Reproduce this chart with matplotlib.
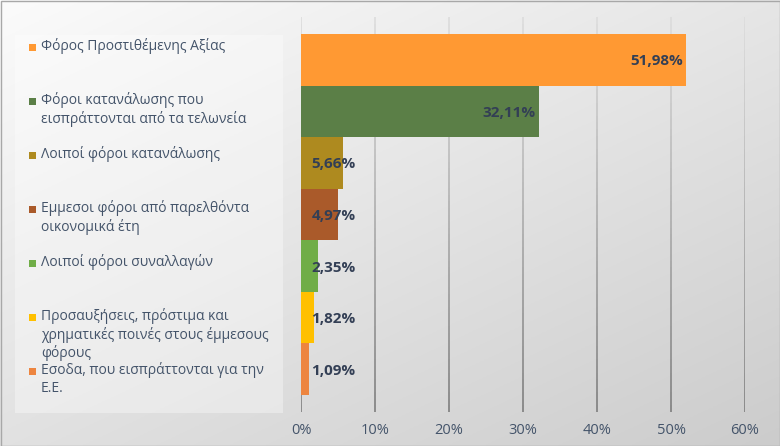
import numpy as np
import matplotlib.pyplot as plt
from matplotlib.collections import LineCollection
from matplotlib.colors import to_rgb

# data
categories = [
    "Φόρος Προστιθέμενης Αξίας",
    "Φόροι κατανάλωσης που\nεισπράττονται από τα τελωνεία",
    "Λοιποί φόροι κατανάλωσης",
    "Εμμεσοι φόροι από παρελθόντα\nοικονομικά έτη",
    "Λοιποί φόροι συναλλαγών",
    "Προσαυξήσεις, πρόστιμα και\nχρηματικές ποινές στους έμμεσους\nφόρους",
    "Εσοδα, που εισπράττονται για την\nΕ.Ε.",
]
values = [51.98, 32.11, 5.66, 4.97, 2.35, 1.82, 1.09]
colors = ["#FF9933", "#5B7F47", "#AE8A1F", "#AA5A2A", "#70AD47", "#FFC000", "#ED8540"]
xticks = [0, 10, 20, 30, 40, 50, 60]

W, H = 780, 446
txt_col = "#44546A"
lbl_col = "#333F55"
plt.rcParams['font.family'] = ['Open Sans', 'DejaVu Sans']

fig = plt.figure(figsize=(W / 100, H / 100), dpi=100)

# background gradient
bg = fig.add_axes([0, 0, 1, 1])
gx, gy = np.meshgrid(np.linspace(0, 1, 200), np.linspace(0, 1, 200))
g = np.clip(0.45 * gx + 0.55 * gy, 0, 1)
top = np.array([0.985, 0.985, 0.985])
bot = np.array([0.80, 0.80, 0.80])
img = top[None, None, :] * (1 - g[..., None]) + bot[None, None, :] * g[..., None]
bg.imshow(img, extent=[0, W, H, 0], aspect='auto')
bg.set_xlim(0, W)
bg.set_ylim(H, 0)
bg.axis('off')
bg.add_patch(plt.Rectangle((0.5, 0.5), W - 1, H - 1, fill=False, ec="#A8A8A8", lw=1))

# legend box
bg.add_patch(plt.Rectangle((15, 35), 268, 378, fc="white", alpha=0.35, ec="none"))

# plot area
x0, x1 = 301, 745
y0, y1 = 17, 412
ax = fig.add_axes([x0 / W, 1 - y1 / H, (x1 - x0) / W, (y1 - y0) / H])
ax.set_facecolor("none")
ypos = np.arange(len(values))
ax.set_xlim(0, 60)
ax.set_ylim(len(values) - 1 + 0.83, -0.83)

# gridlines with vertical fade
nseg = 60
ys = np.linspace(ax.get_ylim()[1], ax.get_ylim()[0], nseg + 1)
c_top = np.array(to_rgb("#DCDCDC"))
c_bot = np.array(to_rgb("#7E7E7E"))
for t in xticks:
    segs = [[(t, ys[i]), (t, ys[i + 1])] for i in range(nseg)]
    f = np.linspace(0, 1, nseg)[:, None]
    cols = c_top * (1 - f) + c_bot * f
    ax.add_collection(LineCollection(segs, colors=cols, linewidths=1.2, zorder=1))

ax.barh(ypos, values, height=1.0, color=colors, edgecolor="none", zorder=2)

for i, v in enumerate(values):
    s = f"{v:.2f}".replace(".", ",") + "%"
    if v > 20:
        ax.text(v - 0.4, i + 0.03, s, ha="right", va="center", fontsize=11,
                fontweight="bold", color=lbl_col, zorder=3)
    else:
        ax.text(1.4, i + 0.03, s, ha="left", va="center", fontsize=11,
                fontweight="bold", color=lbl_col, zorder=3)

ax.set_xticks(xticks)
ax.set_xticklabels([f"{t}%" for t in xticks], fontsize=10.5, color=txt_col)
ax.tick_params(axis="x", length=0, pad=8)
ax.set_yticks([])
for sp in ax.spines.values():
    sp.set_visible(False)

# legend entries
ly0, ldy = 47, 54
for i, (cat, c) in enumerate(zip(categories, colors)):
    yy = ly0 + i * ldy
    bg.add_patch(plt.Rectangle((28.5, yy - 3.5), 7, 7, fc=c, ec="none"))
    bg.text(41, yy - 8.5, cat, ha="left", va="top", fontsize=10, color=txt_col,
            linespacing=1.2)

fig.savefig("out.png", dpi=100)
